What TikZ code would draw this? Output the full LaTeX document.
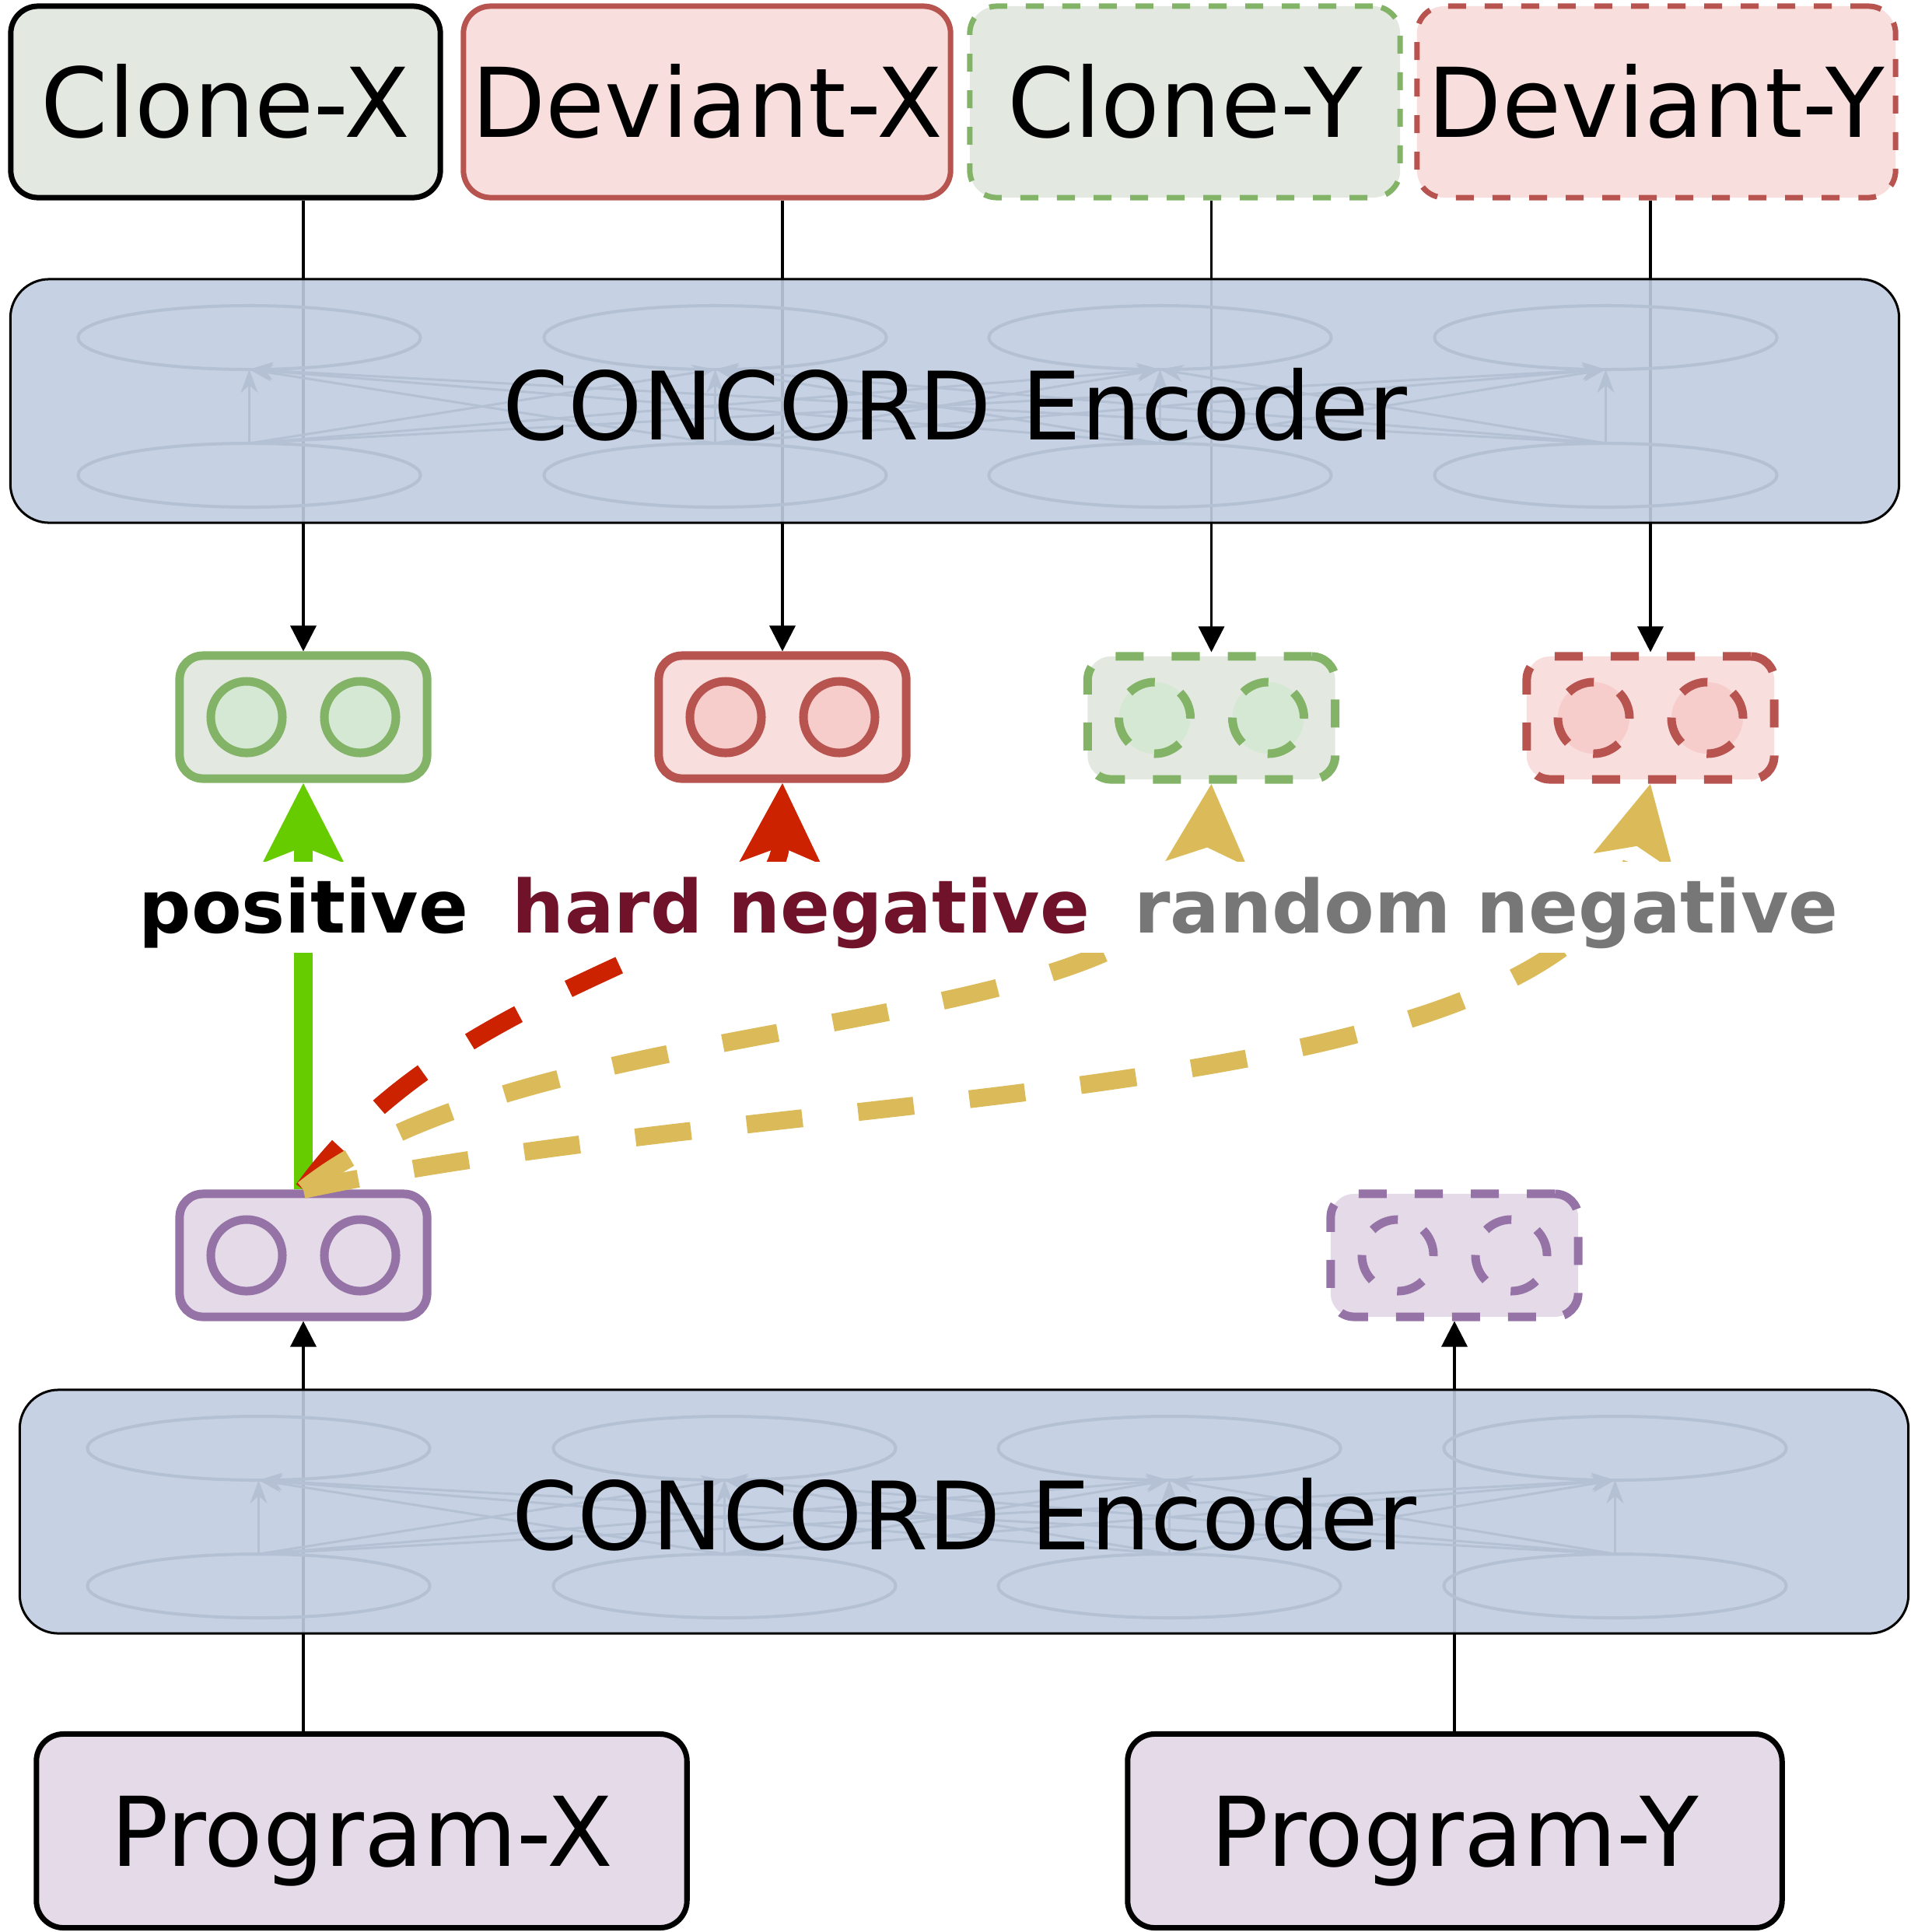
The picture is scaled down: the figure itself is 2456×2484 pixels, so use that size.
\documentclass[tikz,border=0pt]{standalone}
\usepackage{fontspec}
\setmainfont{DejaVu Sans}
\usetikzlibrary{arrows.meta}
\pgfdeclarelayer{bg}
\pgfsetlayers{bg,main}

\definecolor{gfill}{HTML}{E3E8E1}
\definecolor{gline}{HTML}{82B366}
\definecolor{gcirc}{HTML}{D5E8D4}
\definecolor{rfill}{HTML}{F9DEDE}
\definecolor{rline}{HTML}{B85450}
\definecolor{rcirc}{HTML}{F6CDCB}
\definecolor{pfill}{HTML}{E5DAE8}
\definecolor{pline}{HTML}{9673A6}
\definecolor{encfill}{HTML}{C0CEE1}
\definecolor{encline}{HTML}{B4C1D4}
\definecolor{posgreen}{HTML}{66CC00}
\definecolor{hardred}{HTML}{CC2200}
\definecolor{randyel}{HTML}{DBBB59}
\definecolor{hardtxt}{HTML}{701229}
\definecolor{randtxt}{HTML}{777777}

\tikzset{
  bigtxt/.style={font=\fontsize{35.2}{40}\selectfont, text height=0.905cm, text depth=0pt, inner sep=0pt},
  enctxt/.style={font=\fontsize{34.5}{40}\selectfont, text height=0.885cm, text depth=0pt, inner sep=0pt},
  topbox/.style={bigtxt, rounded corners=0.35cm, line width=0.07cm, minimum height=2.46cm},
  dashbox/.style={dash pattern=on 0.23cm off 0.24cm},
  encoder/.style={draw=black, line width=0.03cm, fill=encfill, fill opacity=0.9, rounded corners=0.5cm, minimum width=24.27cm, minimum height=3.13cm, inner sep=0pt},
  vecbox/.style={line width=0.11cm, rounded corners=0.3cm, minimum width=3.18cm, minimum height=1.58cm, inner sep=0pt},
  vdot/.style={circle, line width=0.11cm, minimum size=0.92cm, inner sep=0pt},
  vdash/.style={dash pattern=on 0.36cm off 0.36cm},
  feed/.style={line width=0.035cm, -{Triangle[length=0.33cm,width=0.33cm]}},
  contrast/.style={line width=0.23cm, -{Stealth[length=1.01cm,width=1.01cm,inset=0.19cm]}},
  cdash/.style={dash pattern=on 0.72cm off 0.72cm},
  inner/.style={encline, line width=0.04cm},
  inneredge/.style={encline, line width=0.03cm, -{Stealth[length=0.3cm,width=0.22cm]}},
  labtxt/.style={font=\fontsize{26.8}{30}\selectfont\bfseries, fill=white, inner sep=0pt, text height=0.91cm, text depth=0.26cm, anchor=base}
}

\begin{document}
\begin{tikzpicture}[x=0.01cm, y=-0.01cm]
\useasboundingbox (0,0) rectangle (2456,2484);
\begin{pgfonlayer}{bg}
  \fill[white] (0,0) rectangle (2456,2484);
\end{pgfonlayer}

% top boxes
\node[topbox, draw=black, fill=gfill, minimum width=5.52cm] (cx) at (290,131) {Clone-X};
\node[topbox, draw=rline, fill=rfill, minimum width=6.26cm] (dx) at (909,131) {Deviant-X};
\node[topbox, draw=gline, fill=gfill, dashbox, minimum width=5.53cm] (cy) at (1523.5,131) {Clone-Y};
\node[topbox, draw=rline, fill=rfill, dashbox, minimum width=6.15cm] (dy) at (2129.5,131) {Deviant-Y};

% vectors
\node[vecbox, draw=gline, fill=gfill] (gv) at (390,922) {};
\node[vdot, draw=gline, fill=gcirc] (gv1) at (317,922) {};
\node[vdot, draw=gline, fill=gcirc] (gv2) at (463,922) {};

\node[vecbox, draw=rline, fill=rfill] (rv) at (1006,922) {};
\node[vdot, draw=rline, fill=rcirc] (rv1) at (933,922) {};
\node[vdot, draw=rline, fill=rcirc] (rv2) at (1079,922) {};

\node[vecbox, vdash, draw=gline, fill=gfill] (gdv) at (1557.5,923) {};
\node[vdot, vdash, draw=gline, fill=gcirc] (gdv1) at (1484.5,923) {};
\node[vdot, vdash, draw=gline, fill=gcirc] (gdv2) at (1630.5,923) {};

\node[vecbox, vdash, draw=rline, fill=rfill] (rdv) at (2122,923) {};
\node[vdot, vdash, draw=rline, fill=rcirc] (rdv1) at (2049,923) {};
\node[vdot, vdash, draw=rline, fill=rcirc] (rdv2) at (2195,923) {};

\node[vecbox, draw=pline, fill=pfill] (pv) at (390,1614) {};
\node[vdot, draw=pline, fill=pfill] (pv1) at (317,1614) {};
\node[vdot, draw=pline, fill=pfill] (pv2) at (463,1614) {};

\node[vecbox, vdash, draw=pline, fill=pfill] (pdv) at (1870,1614) {};
\node[vdot, vdash, draw=pline, fill=pfill] (pdv1) at (1797,1614) {};
\node[vdot, vdash, draw=pline, fill=pfill] (pdv2) at (1943,1614) {};

% program boxes
\node[topbox, draw=black, fill=pfill, minimum width=8.36cm, minimum height=2.49cm] (px) at (465,2354) {Program-X};
\node[topbox, draw=black, fill=pfill, minimum width=8.41cm, minimum height=2.49cm] (py) at (1870.5,2354) {Program-Y};

% encoders
\node[encoder] (enc1) at (1227.5,515.5) {};
\node[encoder] (enc2) at (1239.5,1943.5) {};
\foreach \e in {enc1,enc2} {
  \begin{scope}[shift={(\e.center)}]
    \foreach \i in {-907,-308,264,837} {
      \draw[inner] (\i,-81.5) ellipse [x radius=2.2cm, y radius=0.41cm];
      \draw[inner] (\i,95.5) ellipse [x radius=2.2cm, y radius=0.41cm];
    }
    \foreach \i in {-907,-308,264,837} {
      \foreach \j in {-907,-308,264,837} {
        \draw[inneredge] (\i,54.5) -- (\j,-40.5);
      }
    }
  \end{scope}
}
\node[enctxt] (enc1t) at (1228,521) {CONCORD Encoder};
\node[enctxt] (enc2t) at (1240,1948) {CONCORD Encoder};

% feed-forward connectors (behind encoders)
\begin{pgfonlayer}{bg}
  \draw[feed] (cx.south -| gv.north) -- (gv.north);
  \draw[feed] (dx.south -| rv.north) -- (rv.north);
  \draw[feed] (cy.south -| gdv.north) -- (gdv.north);
  \draw[feed] (dy.south -| rdv.north) -- (rdv.north);
  \draw[feed] (px.north -| pv.south) -- (pv.south);
  \draw[feed] (py.north -| pdv.south) -- (pdv.south);
\end{pgfonlayer}

% contrastive connectors
\draw[contrast, posgreen] (pv.north) -- (gv.south);
\draw[contrast, hardred, cdash] (pv.north) .. controls (590,1250) and (1000,1220) .. (rv.south);
\draw[contrast, randyel, cdash] (pv.north) .. controls (700,1280) and (1535,1350) .. (gdv.south);
\draw[contrast, randyel, cdash] (pv.north) .. controls (1050,1390) and (2030,1430) .. (rdv.south);

% labels
\node[labtxt] (lab) at (1271,1199) {positive\hspace{0.57cm}\textcolor{hardtxt}{hard negative}\hspace{0.57cm}\textcolor{randtxt}{random negative}};
\end{tikzpicture}
\end{document}
